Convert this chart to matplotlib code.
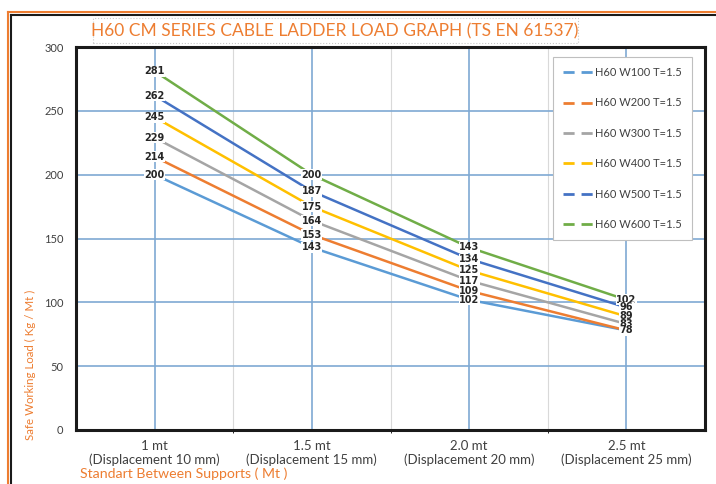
import matplotlib.pyplot as plt
from matplotlib.lines import Line2D
from matplotlib.patches import Rectangle

# datos
categorias = ['1 mt\n(Displacement 10 mm)', '1.5 mt\n(Displacement 15 mm)',
              '2.0 mt\n(Displacement 20 mm)', '2.5 mt\n(Displacement 25 mm)']
series = ['H60 W100 T=1.5', 'H60 W200 T=1.5', 'H60 W300 T=1.5',
          'H60 W400 T=1.5', 'H60 W500 T=1.5', 'H60 W600 T=1.5']
w100 = [200, 143, 102, 78]
w200 = [214, 153, 109, 78]
w300 = [229, 164, 117, 83]
w400 = [245, 175, 125, 89]
w500 = [262, 187, 134, 96]
w600 = [281, 200, 143, 102]
valores = [w100, w200, w300, w400, w500, w600]
colores = ['#5B9BD5', '#ED7D31', '#A5A5A5', '#FFC000', '#4472C4', '#70AD47']
y_ticks = [0, 50, 100, 150, 200, 250, 300]

naranja = '#ED7D31'
gris_txt = '#404040'

fig = plt.figure(figsize=(7.16, 4.84), dpi=100)
ax = fig.add_axes([76/716, 1-430/484, 629/716, 383/484])

x = list(range(len(categorias)))
for vals, col, nom in zip(valores, colores, series):
    ax.plot(x, vals, color=col, linewidth=1.8, label=nom, zorder=3)

# etiquetas de datos con fondo blanco
# (la etiqueta 78 de W100 queda debajo de la de W200, se dibuja una sola vez)
vistos = set()
for vals in valores[::-1]:
    for xi, v in zip(x, vals):
        if (xi, v) in vistos:
            continue
        vistos.add((xi, v))
        ax.text(xi, v, str(v), ha='center', va='center', fontsize=7,
                fontweight='bold', color='#262626', family='DejaVu Sans',
                bbox=dict(facecolor='white', edgecolor='none', pad=0.3),
                zorder=4)

ax.set_xlim(-0.5, 3.5)
ax.set_ylim(0, 300)
ax.set_yticks(y_ticks)
ax.set_xticks(x)
ax.set_xticklabels(categorias)
ax.set_xticks([0.5, 1.5, 2.5], minor=True)
ax.tick_params(axis='both', length=0, colors=gris_txt)
ax.tick_params(axis='y', pad=9, labelsize=8)
ax.tick_params(axis='x', pad=7, labelsize=9.5)
for lab in ax.get_xticklabels() + ax.get_yticklabels():
    lab.set_family('Lato')

ax.grid(True, which='major', color='#7FA9D3', linewidth=1.2, zorder=0)
ax.grid(True, which='minor', axis='x', color='#D9D9D9', linewidth=0.8, zorder=0)
ax.set_axisbelow(True)
for s in ax.spines.values():
    s.set_color('#1A1A1A')
    s.set_linewidth(2.2)

handles = [Line2D([0], [0], color=c, linewidth=2, linestyle=(0, (4, 2.5)))
           for c in colores]
leg = ax.legend(handles, series, loc='upper left',
                bbox_to_anchor=(553/716, 1-57/484), bbox_transform=fig.transFigure,
                fancybox=False, framealpha=1, edgecolor='#BFBFBF',
                labelspacing=1.75, handlelength=2.8,
                handletextpad=0.1, borderpad=0.9, borderaxespad=0,
                prop={'family': 'Lato', 'size': 8})
leg.get_frame().set_linewidth(0.8)
for t in leg.get_texts():
    t.set_color(gris_txt)

# titulos
fig.text(335/716, 1-31/484, 'H60 CM SERIES CABLE LADDER LOAD GRAPH (TS EN 61537)',
         ha='center', va='center', color=naranja, fontsize=12.5, family='Lato')
fig.patches.append(Rectangle((93/716, 1-43/484), 485/716, 25/484,
                             transform=fig.transFigure, fill=False,
                             edgecolor='#C8C8C8', linestyle=':', linewidth=0.8))
fig.text(30/716, 1-365/484, 'Safe Working Load ( Kg / Mt )', rotation=90,
         ha='center', va='center', color=naranja, fontsize=8.3, family='Lato')
fig.text(80/716, 1-474/484, 'Standart Between Supports ( Mt )',
         ha='left', va='center', color=naranja, fontsize=10.2, family='Lato')

# marco exterior
fig.add_artist(Line2D([8/716, 8/716], [0, 1-12/484], color=naranja, linewidth=1.5,
                      transform=fig.transFigure))
fig.add_artist(Line2D([8/716, 1], [1-12/484, 1-12/484], color=naranja, linewidth=1.5,
                      transform=fig.transFigure))
fig.add_artist(Line2D([11/716, 11/716], [0, 1-15/484], color='#1A1A1A', linewidth=1.5,
                      transform=fig.transFigure))
fig.add_artist(Line2D([11/716, 1], [1-15/484, 1-15/484], color='#1A1A1A', linewidth=1.5,
                      transform=fig.transFigure))

plt.savefig('out.png', dpi=100)
plt.close()
